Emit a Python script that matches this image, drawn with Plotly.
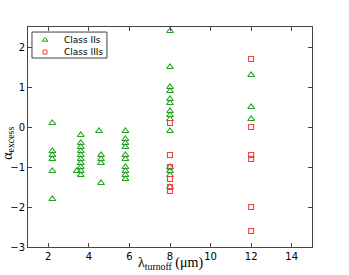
import plotly.graph_objects as go

# Class IIs (triangles)
iis_x = [2.2, 2.2, 2.2, 2.2, 2.2, 2.2,
         3.6, 3.6, 3.6, 3.6, 3.6, 3.6, 3.6, 3.6, 3.6, 3.6, 3.4,
         4.5, 4.6, 4.6, 4.6, 4.6,
         5.8, 5.8, 5.8, 5.8, 5.8, 5.8, 5.8, 5.8, 5.8, 5.8,
         8.0, 8.0, 8.0, 8.0, 8.0, 8.0, 8.0, 8.0, 8.0, 8.0, 8.0, 8.0, 8.0, 8.0,
         12.0, 12.0, 12.0]
iis_y = [0.1, -0.6, -0.7, -0.8, -1.1, -1.8,
         -0.2, -0.4, -0.5, -0.6, -0.7, -0.8, -0.9, -1.0, -1.1, -1.2, -1.1,
         -0.1, -0.7, -0.8, -0.9, -1.4,
         -0.1, -0.3, -0.4, -0.5, -0.7, -0.8, -1.0, -1.1, -1.2, -1.3,
         2.4, 1.5, 1.0, 0.9, 0.7, 0.6, 0.4, 0.3, 0.2, -0.1, -1.0, -1.1, -1.2, -1.5,
         1.3, 0.5, 0.2]

# Class IIIs (squares)
iiis_x = [8.0, 8.0, 8.0, 8.0, 8.0, 8.0,
          12.0, 12.0, 12.0, 12.0, 12.0, 12.0]
iiis_y = [0.1, -0.7, -1.0, -1.3, -1.5, -1.6,
          1.7, 0.0, -0.7, -0.8, -2.0, -2.6]

x_ticks = [2, 4, 6, 8, 10, 12, 14]
y_ticks = [-3, -2, -1, 0, 1, 2]
series_names = ["Class IIs", "Class IIIs"]

green = "#22a022"
red = "#f04040"

fig = go.Figure()
fig.add_trace(go.Scatter(x=iis_x, y=iis_y, mode="markers", name=series_names[0],
                         showlegend=False,
                         marker=dict(symbol="triangle-up-open", size=6,
                                     color=green, line=dict(width=1.1, color=green))))
fig.add_trace(go.Scatter(x=iiis_x, y=iiis_y, mode="markers", name=series_names[1],
                         showlegend=False,
                         marker=dict(symbol="square-open", size=5,
                                     color=red, line=dict(width=1.1, color=red))))

# compact matplotlib-style legend on an overlay axis (0..1 in both directions)
leg_x = [0.06, 0.06]
leg_y = [0.941, 0.886]
fig.add_trace(go.Scatter(x=leg_x[:1], y=leg_y[:1], xaxis="x2", yaxis="y2", mode="markers",
                         showlegend=False, hoverinfo="skip",
                         marker=dict(symbol="triangle-up-open", size=5,
                                     color=green, line=dict(width=1, color=green))))
fig.add_trace(go.Scatter(x=leg_x[1:], y=leg_y[1:], xaxis="x2", yaxis="y2", mode="markers",
                         showlegend=False, hoverinfo="skip",
                         marker=dict(symbol="square-open", size=4,
                                     color=red, line=dict(width=1, color=red))))

annotations = []
for name, yy in zip(series_names, leg_y):
    annotations.append(dict(x=0.119, y=yy, xref="paper", yref="paper", text=name,
                            showarrow=False, xanchor="left", yanchor="middle",
                            font=dict(family="DejaVu Sans", size=9, color="#000")))
annotations.append(dict(x=0.5, y=-0.073, xref="paper", yref="paper",
                        text="λ<sub>turnoff</sub> (μm)", showarrow=False,
                        xanchor="center", yanchor="middle",
                        font=dict(family="Liberation Serif", size=14, color="#000")))
annotations.append(dict(x=-0.07, y=0.47, xref="paper", yref="paper",
                        text="α<sub>excess</sub>", showarrow=False, textangle=-90,
                        xanchor="center", yanchor="middle",
                        font=dict(family="Liberation Serif", size=14, color="#000")))

shapes = [dict(type="rect", xref="paper", yref="paper", x0=0.014, x1=0.278,
               y0=0.859, y1=0.977, line=dict(color="#444", width=1),
               fillcolor="rgba(0,0,0,0)", layer="below")]

axis_common = dict(showgrid=False, zeroline=False, showline=True, linecolor="#444",
                   linewidth=1, mirror="ticks", ticks="inside", ticklen=4,
                   tickcolor="#444", tickfont=dict(family="DejaVu Sans", size=10, color="#000"))

fig.update_layout(
    width=349, height=275,
    margin=dict(l=28, r=37, t=27, b=28, autoexpand=False),
    paper_bgcolor="white", plot_bgcolor="white",
    showlegend=False,
    annotations=annotations,
    shapes=shapes,
    xaxis=dict(range=[1, 15], tickvals=x_ticks, **axis_common),
    yaxis=dict(range=[-3, 2.5], tickvals=y_ticks, **axis_common),
    xaxis2=dict(range=[0, 1], overlaying="x", visible=False, fixedrange=True),
    yaxis2=dict(range=[0, 1], overlaying="y", visible=False, fixedrange=True),
)

# remove the browser's default 8px page margin so the figure fills the window
fig.write_html("out.html", config={"displayModeBar": False},
               post_script="document.body.style.margin='0';")
